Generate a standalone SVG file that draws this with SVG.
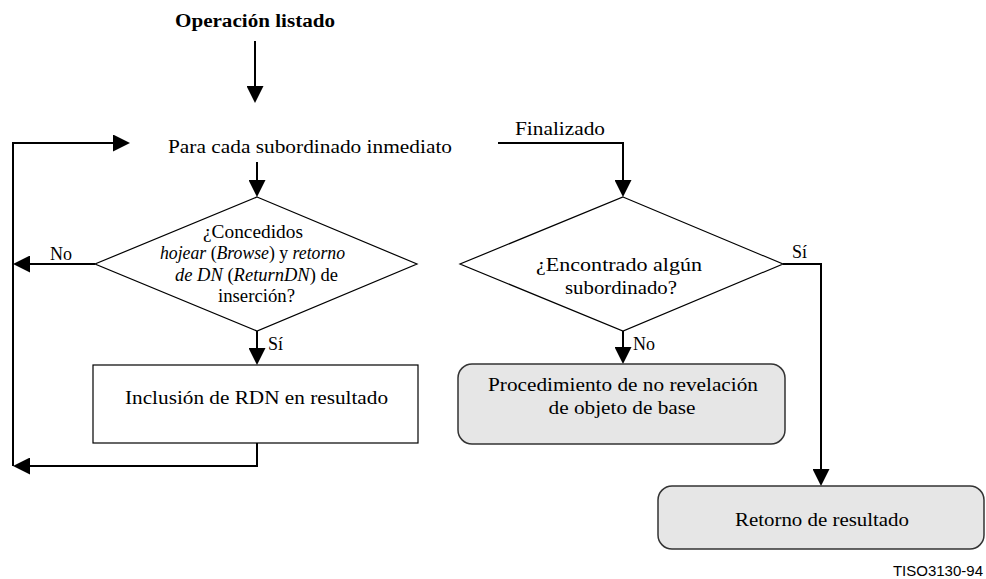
<svg xmlns="http://www.w3.org/2000/svg" width="986" height="579" viewBox="0 0 986 579">
<defs>
<style>
.s{font-family:'Liberation Serif','Times New Roman',Times,'DejaVu Serif',serif;font-size:18px;fill:#000}
.t{text-anchor:middle}
.b{font-weight:bold}
.i{font-style:italic}
.conn{fill:none;stroke:#000;stroke-width:2}
.shape{fill:#fff;stroke:#000;stroke-width:1.2}
.gray{fill:#e6e6e6;stroke:#333;stroke-width:1.5}
.code{font-family:'Liberation Sans',Arial,sans-serif;font-size:15px;fill:#000}
</style>
<marker id="ah" markerUnits="userSpaceOnUse" markerWidth="17" markerHeight="17" refX="13" refY="8.5" orient="auto"><path d="M0,0 L17,8.5 L0,17 z" fill="#000"/></marker>
</defs>
<g id="connectors">
<path class="conn" d="M255 41 V99" marker-end="url(#ah)"/>
<path class="conn" d="M257 162 V193" marker-end="url(#ah)"/>
<path class="conn" d="M257 331 V361" marker-end="url(#ah)"/>
<path class="conn" d="M95 264 H17" marker-end="url(#ah)"/>
<path class="conn" d="M257 443 V466 H17" marker-end="url(#ah)"/>
<path class="conn" d="M13 466 V143 H126" marker-end="url(#ah)"/>
<path class="conn" d="M498 143 H623 V193" marker-end="url(#ah)"/>
<path class="conn" d="M623 331 V360" marker-end="url(#ah)"/>
<path class="conn" d="M783 264 H821 V482" marker-end="url(#ah)"/>
<text class="s" font-family="Liberation Serif, serif" x="50" y="260">No</text>
<text class="s" font-family="Liberation Serif, serif" x="268" y="350">Sí</text>
<text class="s" font-family="Liberation Serif, serif" x="792" y="258">Sí</text>
<text class="s" font-family="Liberation Serif, serif" x="633" y="350">No</text>
</g>
<g id="title"><text class="s t b" x="255" y="27" textLength="160" lengthAdjust="spacingAndGlyphs">Operación listado</text></g>
<g id="loop"><text class="s t" x="310" y="153" textLength="284" lengthAdjust="spacingAndGlyphs">Para cada subordinado inmediato</text></g>
<g id="finalizado"><text class="s t" x="560" y="135" textLength="90" lengthAdjust="spacingAndGlyphs">Finalizado</text></g>
<g id="decision1">
<polygon class="shape" points="257,197 417,264 257,331 95,264"/>
<text class="s t" x="253" y="238" textLength="100" lengthAdjust="spacingAndGlyphs">¿Concedidos</text>
<text class="s t" x="252.5" y="259" textLength="185" lengthAdjust="spacingAndGlyphs"><tspan class="i">hojear</tspan> (<tspan class="i">Browse</tspan>) y <tspan class="i">retorno</tspan></text>
<text class="s t" x="256.5" y="281" textLength="163" lengthAdjust="spacingAndGlyphs"><tspan class="i">de DN</tspan> (<tspan class="i">ReturnDN</tspan>) de</text>
<text class="s t" x="256.5" y="302" textLength="77" lengthAdjust="spacingAndGlyphs">inserción?</text>
</g>
<g id="include">
<rect class="shape" x="93" y="365" width="325" height="78"/>
<text class="s t" x="256.5" y="404" textLength="263" lengthAdjust="spacingAndGlyphs">Inclusión de RDN en resultado</text>
</g>
<g id="decision2">
<polygon class="shape" points="623,197 783,264 623,331 460,264"/>
<text class="s t" x="619" y="271" textLength="166" lengthAdjust="spacingAndGlyphs">¿Encontrado algún</text>
<text class="s t" x="621" y="294" textLength="112" lengthAdjust="spacingAndGlyphs">subordinado?</text>
</g>
<g id="nondisclosure">
<rect class="gray" x="458" y="364" width="327" height="80" rx="14"/>
<text class="s t" x="623" y="391" textLength="270" lengthAdjust="spacingAndGlyphs">Procedimiento de no revelación</text>
<text class="s t" x="622" y="414" textLength="147" lengthAdjust="spacingAndGlyphs">de objeto de base</text>
</g>
<g id="return">
<rect class="gray" x="658" y="486" width="326" height="63" rx="14"/>
<text class="s t" x="822" y="526" textLength="174" lengthAdjust="spacingAndGlyphs">Retorno de resultado</text>
</g>
<g id="figid"><text class="code" x="983" y="576" text-anchor="end">TISO3130-94</text></g>
</svg>
